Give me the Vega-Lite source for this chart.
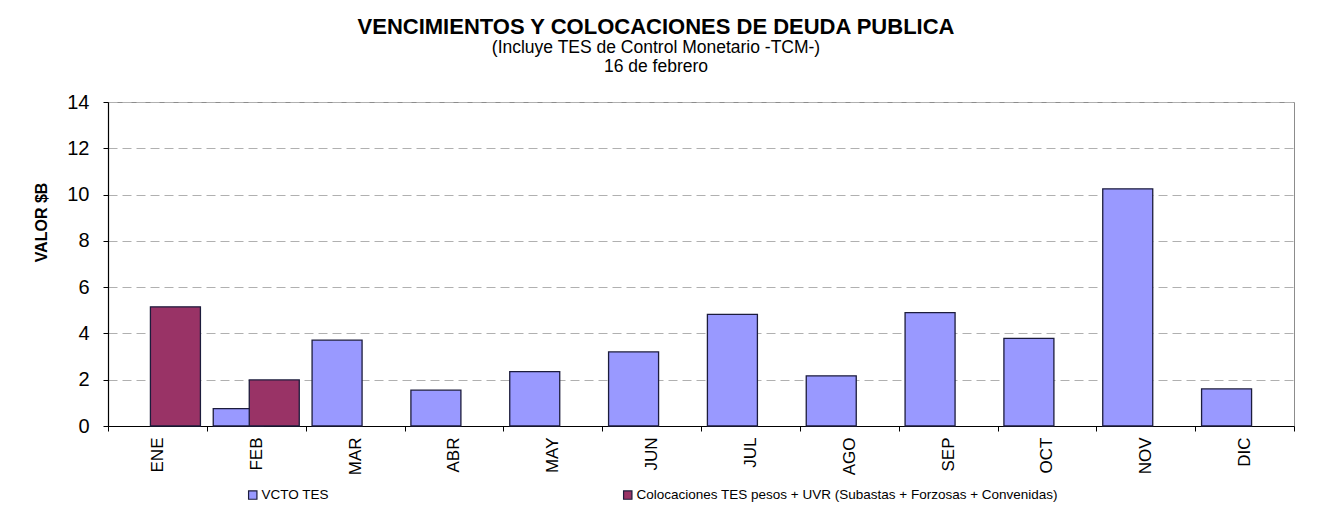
{
  "$schema": "https://vega.github.io/schema/vega-lite/v6.json",
  "autosize": {"type": "none"},
  "width": 1186,
  "height": 324,
  "padding": {"left": 108, "top": 102, "right": 36, "bottom": 84},
  "background": "white",
  "config": {
    "font": "Liberation Sans",
    "view": {"stroke": "#8c8c8c", "strokeWidth": 1}
  },
  "title": {
    "text": "VENCIMIENTOS Y COLOCACIONES DE DEUDA PUBLICA",
    "subtitle": ["(Incluye  TES de Control Monetario  -TCM-)", "16 de febrero"],
    "anchor": "middle",
    "dx": -45,
    "offset": 16,
    "font": "Liberation Sans",
    "fontSize": 22,
    "fontWeight": "bold",
    "color": "black",
    "subtitleFont": "Liberation Sans",
    "subtitleFontSize": 17.5,
    "subtitleColor": "black",
    "subtitleLineHeight": 19,
    "subtitlePadding": 0
  },
  "data": {
    "values": [
      {"mes": "FEB", "serie": "VCTO TES", "valor": 0.75},
      {"mes": "MAR", "serie": "VCTO TES", "valor": 3.71},
      {"mes": "ABR", "serie": "VCTO TES", "valor": 1.55},
      {"mes": "MAY", "serie": "VCTO TES", "valor": 2.35},
      {"mes": "JUN", "serie": "VCTO TES", "valor": 3.2},
      {"mes": "JUL", "serie": "VCTO TES", "valor": 4.82},
      {"mes": "AGO", "serie": "VCTO TES", "valor": 2.17},
      {"mes": "SEP", "serie": "VCTO TES", "valor": 4.9},
      {"mes": "OCT", "serie": "VCTO TES", "valor": 3.79},
      {"mes": "NOV", "serie": "VCTO TES", "valor": 10.25},
      {"mes": "DIC", "serie": "VCTO TES", "valor": 1.6},
      {"mes": "ENE", "serie": "Colocaciones TES pesos + UVR (Subastas + Forzosas + Convenidas)", "valor": 5.15},
      {"mes": "FEB", "serie": "Colocaciones TES pesos + UVR (Subastas + Forzosas + Convenidas)", "valor": 1.99}
    ]
  },
  "mark": {"type": "bar", "width": 50, "stroke": "#1c1c3c", "strokeWidth": 1.3},
  "encoding": {
    "x": {
      "field": "mes",
      "type": "nominal",
      "scale": {
        "domain": ["ENE", "FEB", "MAR", "ABR", "MAY", "JUN", "JUL", "AGO", "SEP", "OCT", "NOV", "DIC"],
        "paddingInner": 0,
        "paddingOuter": 0
      },
      "axis": {
        "title": null,
        "labelAngle": 270,
        "labelFontSize": 17,
        "labelColor": "black",
        "labelPadding": 6,
        "tickBand": "extent",
        "tickColor": "black",
        "tickSize": 5,
        "domainColor": "black",
        "domainWidth": 1.2,
        "grid": false
      }
    },
    "xOffset": {
      "field": "serie",
      "type": "nominal",
      "scale": {
        "domain": ["VCTO TES", "Colocaciones TES pesos + UVR (Subastas + Forzosas + Convenidas)"],
        "paddingInner": 0,
        "paddingOuter": 0.372
      }
    },
    "y": {
      "field": "valor",
      "type": "quantitative",
      "scale": {"domain": [0, 14], "nice": false},
      "axis": {
        "title": "VALOR $B",
        "titleFontSize": 16,
        "titleFontWeight": "bold",
        "titleColor": "black",
        "titleAngle": 270,
        "titleX": -67,
        "titleY": 120,
        "titleAlign": "center",
        "titleBaseline": "middle",
        "values": [0, 2, 4, 6, 8, 10, 12, 14],
        "labelFontSize": 20,
        "labelColor": "black",
        "labelPadding": 14,
        "tickColor": "black",
        "tickSize": 5,
        "domainColor": "black",
        "domainWidth": 1.2,
        "gridColor": "#b0b0b0",
        "gridDash": [9, 5],
        "gridWidth": 1
      }
    },
    "color": {
      "field": "serie",
      "type": "nominal",
      "scale": {
        "domain": ["VCTO TES", "Colocaciones TES pesos + UVR (Subastas + Forzosas + Convenidas)"],
        "range": ["#9999FF", "#993366"]
      },
      "legend": {
        "title": null,
        "orient": "none",
        "legendX": 138,
        "legendY": 386,
        "direction": "horizontal",
        "columns": 2,
        "columnPadding": 292,
        "symbolType": "square",
        "symbolSize": 70,
        "symbolStrokeColor": "#1c1c3c",
        "symbolStrokeWidth": 1.2,
        "labelFontSize": 13.5,
        "labelColor": "black",
        "labelOffset": 2,
        "labelLimit": 600
      }
    },
    "order": {"field": "serie", "sort": "descending"}
  }
}
